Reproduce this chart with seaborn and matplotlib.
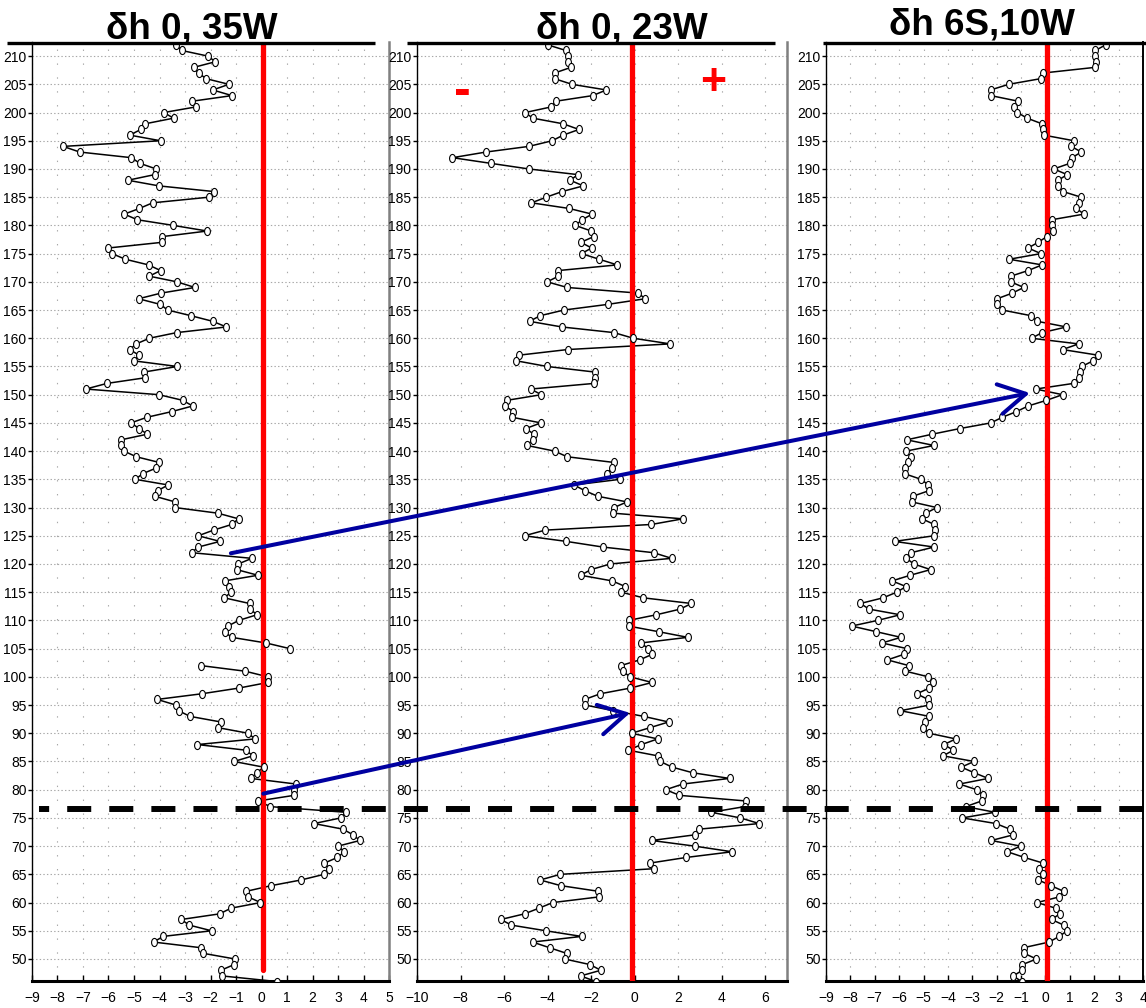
import numpy as np
import pandas as pd
import matplotlib
matplotlib.use("Agg")
import matplotlib.pyplot as plt
import matplotlib.transforms as mtransforms
from matplotlib.path import Path
from matplotlib.patches import ConnectionPatch
from matplotlib.lines import Line2D
import seaborn as sns

# ---- profiles: depth level (one value per level, top to bottom) ----
depth_35w = np.arange(212, 45, -1)
dh_35w = [
    -3.34, -3.13, -2.10, -1.81, -2.66, -2.47, -2.17, -1.28, -1.91, -1.16,
    -2.73, -2.57, -3.83, -3.45, -4.57, -4.73, -5.17, -3.96, -7.78, -7.13,
    -5.10, -4.77, -4.13, -4.19, -5.24, -4.02, -1.87, -2.06, -4.27, -4.79,
    -5.38, -4.87, -3.46, -2.13, -3.92, -3.90, -6.00, -5.86, -5.34, -4.43,
    -3.96, -4.40, -3.32, -2.61, -3.94, -4.82, -3.97, -3.68, -2.77, -1.91,
    -1.38, -3.33, -4.40, -4.91, -5.17, -4.80, -5.01, -3.30, -4.62, -4.56,
    -6.06, -6.89, -4.02, -3.09, -2.70, -3.52, -4.49, -5.12, -4.80, -4.48,
    -5.51, -5.51, -5.39, -4.91, -4.02, -4.13, -4.66, -4.95, -3.66, -4.07,
    -4.18, -3.39, -3.39, -1.71, -0.90, -1.17, -1.88, -2.48, -1.63, -2.48,
    -2.74, -0.38, -0.91, -0.97, -0.14, -1.45, -1.27, -1.19, -1.46, -0.47,
    -0.44, -0.18, -0.89, -1.32, -1.45, -1.17, 0.18, 1.11, np.nan, np.nan,
    -2.39, -0.64, 0.25, 0.25, -0.90, -2.34, -4.09, -3.36, -3.25, -2.81,
    -1.59, -1.71, -0.52, -0.26, -2.51, -0.61, -0.34, -1.08, 0.08, -0.18,
    -0.42, 1.36, 1.29, 1.28, -0.14, 0.35, 3.30, 3.11, 2.06, 3.20,
    3.59, 3.86, 3.00, 3.25, 2.98, 2.47, 2.65, 2.45, 1.55, 0.38,
    -0.59, -0.52, -0.04, -1.20, -1.64, -3.15, -2.83, -1.96, -3.86, -4.23,
    -2.38, -2.28, -1.04, -1.08, -1.59, -1.55, 0.61,
]

depth_23w = np.arange(212, 45, -1)
dh_23w = [
    -4.00, -3.16, -3.08, -3.04, -2.93, -3.68, -3.68, -2.88, -1.30, -1.93,
    -3.63, -3.83, -5.03, -4.68, -3.28, -2.56, -3.28, -3.79, -4.86, -6.83,
    -8.37, -6.61, -4.86, -2.61, -2.96, -2.36, -3.33, -4.06, -4.74, -3.01,
    -1.96, -2.41, -2.73, -1.99, -1.89, -2.47, -1.98, -2.44, -1.63, -0.80,
    -3.50, -3.50, -4.02, -3.10, 0.17, 0.48, -1.24, -3.25, -4.34, -4.83,
    -3.34, -0.95, -0.06, 1.64, -3.08, -5.32, -5.43, -4.02, -1.81, -1.81,
    -1.86, -4.77, -4.29, -5.87, -5.95, -5.58, -5.63, -4.31, -5.00, -4.63,
    -4.69, -4.94, -3.68, -3.10, -0.97, -1.04, -1.29, -0.67, -2.79, -2.29,
    -1.70, -0.35, -0.95, -0.98, 2.21, 0.77, -4.11, -5.06, -3.14, -1.46,
    0.87, 1.70, -1.12, -2.01, -2.48, -1.03, -0.43, -0.61, 0.40, 2.61,
    2.09, 1.00, -0.28, -0.28, 1.10, 2.44, 0.28, 0.63, 0.81, 0.23,
    -0.63, -0.55, -0.21, 0.80, -0.21, -1.58, -2.29, -2.27, -0.98, 0.41,
    1.56, 0.71, -0.14, 1.06, 0.31, -0.29, 1.06, 1.18, 1.72, 2.67,
    4.36, 2.21, 1.43, 2.06, 5.12, 5.05, 3.51, 4.86, 5.72, 2.94,
    2.76, 0.78, 2.76, 4.48, 2.38, 0.71, 0.89, -3.42, -4.34, -3.40,
    -1.67, -1.64, -3.76, -4.40, -5.06, -6.15, -5.66, -4.08, -2.44, -4.69,
    -3.91, -3.13, -3.22, -2.04, -1.56, -2.48, -1.78,
]

depth_6s10w = np.arange(213, 45, -1)
dh_6s10w = [
    2.97,
    2.47, 2.05, 2.02, 2.06, 2.02, -0.10, -0.20, -1.51, -2.25, -2.24,
    -1.11, -1.27, -1.15, -0.75, -0.14, -0.10, -0.07, 1.17, 1.06, 1.47,
    1.09, 1.00, 0.34, 0.89, 0.52, 0.52, 0.72, 1.46, 1.36, 1.27,
    1.58, 0.25, 0.26, 0.30, 0.05, -0.30, -0.71, -0.19, -1.49, -0.14,
    -0.71, -1.42, -1.42, -0.89, -1.36, -1.98, -1.98, -1.77, -0.59, -0.33,
    0.86, -0.14, -0.57, 1.36, 0.70, 2.16, 1.95, 1.49, 1.43, 1.36,
    1.15, -0.40, 0.70, 0.04, -0.71, -1.19, -1.77, -2.24, -3.51, -4.64,
    -5.69, -4.57, -5.72, -5.53, -5.62, -5.78, -5.78, -5.10, -4.80, -4.77,
    -5.44, -5.48, -4.46, -4.90, -5.06, -4.56, -4.52, -4.57, -6.19, -4.57,
    -5.51, -5.70, -5.40, -4.71, -5.55, -6.29, -5.72, -6.10, -6.66, -7.59,
    -7.23, -5.96, -6.88, -7.95, -6.94, -5.93, -6.70, -5.68, -5.80, -6.48,
    -5.61, -5.74, -4.80, -4.62, -4.76, -5.28, -4.82, -4.76, -5.95, -4.77,
    -4.95, -5.03, -4.77, -3.68, -4.16, -3.78, -4.20, -2.93, -3.45, -2.92,
    -2.35, -3.53, -2.82, -2.56, -2.62, -3.27, -2.07, -3.41, -2.03, -1.46,
    -1.32, -2.22, -1.02, -1.56, -0.87, -0.10, -0.26, -0.10, -0.29, 0.22,
    0.74, 0.56, -0.34, 0.42, 0.59, 0.25, 0.75, 0.89, 0.56, 0.15,
    -0.90, -0.87, -0.37, -0.95, -0.95, -1.32, -0.98,
]

titles = ["\u03b4h 0, 35W", "\u03b4h 0, 23W", "\u03b4h 6S,10W"]
x_limits = [(-9, 5), (-10, 7), (-9, 4)]
x_tick_sets = [list(range(-9, 6)), list(range(-10, 7, 2)), list(range(-9, 5))]
zero_lines = [0.05, -0.14, 0.07]
y_limits = (46.1, 212.5)
y_tick_values = list(range(50, 211, 5))
onset_level = 76.5

sns.set_style("white")
plt.rcParams["font.family"] = ["Liberation Sans Narrow", "Liberation Sans", "DejaVu Sans"]
plt.rcParams["lines.scale_dashes"] = False
plt.rcParams["text.color"] = "black"

W, H = 1146, 1008
fig = plt.figure(figsize=(W / 100, H / 100), dpi=100)

def fx(px):
    return px / W

def fy(py):
    return 1 - py / H

bottom, top = 981, 42
panel_px = [(32, 389), (417, 787), (826, 1143)]
axes = [fig.add_axes([fx(l), fy(bottom), fx(r - l), (bottom - top) / H]) for l, r in panel_px]

# open elliptical marker
theta = np.linspace(0, 2 * np.pi, 48)
ellipse = Path(np.column_stack([0.72 * np.cos(theta), np.sin(theta)]), closed=True)

profiles = [(depth_35w, dh_35w), (depth_23w, dh_23w), (depth_6s10w, dh_6s10w)]
grid_col = "#a8a8a8"

for i, (ax, (depth, vals)) in enumerate(zip(axes, profiles)):
    df = pd.DataFrame({"depth": depth, "dh": vals})
    df["seg"] = df["dh"].isna().cumsum()
    df = df.dropna()

    sns.lineplot(data=df, x="dh", y="depth", units="seg", estimator=None, sort=False,
                 color="black", linewidth=1.1, ax=ax, zorder=2, legend=False)
    ymin_frac = 0.0
    if i == 0:
        ymin_frac = (48 - y_limits[0]) / (y_limits[1] - y_limits[0])
    ax.axvline(zero_lines[i], ymin=ymin_frac, ymax=1, color="#ff0000", linewidth=3.8, zorder=3)
    sns.scatterplot(data=df, x="dh", y="depth", marker=ellipse, s=34, color="white",
                    edgecolor="black", linewidth=0.8, ax=ax, zorder=4, legend=False)

    ax.set_xlim(*x_limits[i])
    ax.set_ylim(*y_limits)
    ax.set_xticks(x_tick_sets[i])
    ax.set_yticks(y_tick_values)
    ax.set_xlabel("")
    ax.set_ylabel("")
    ax.set_axisbelow(True)
    ax.grid(True, axis="y", color=grid_col, linestyle=(0, (1.0, 1.6)), linewidth=0.8)
    ax.grid(True, axis="x", color=grid_col, linestyle=(0, (1.0, 9.0)), linewidth=0.8)
    ax.tick_params(axis="y", direction="out", length=3, width=1, pad=1, labelsize=10,
                   left=True, colors="black")
    ax.tick_params(axis="x", direction="in", length=4, width=1, pad=7, labelsize=10,
                   bottom=True, colors="black")

    ax.spines["top"].set_visible(False)
    ax.spines["left"].set_color("black")
    ax.spines["left"].set_linewidth(1.0)
    ax.spines["bottom"].set_color("black")
    ax.spines["bottom"].set_linewidth(2.2)
    if i < 2:
        ax.spines["right"].set_color("#808080")
        ax.spines["right"].set_linewidth(1.8)
    else:
        ax.spines["right"].set_color("black")
        ax.spines["right"].set_linewidth(1.4)

# heavy bars along the top of each panel
for l, r in [(7, 375), (407, 775), (823, 1146)]:
    fig.add_artist(Line2D([fx(l), fx(r)], [fy(42.5), fy(42.5)], transform=fig.transFigure,
                          color="black", linewidth=2.4, solid_capstyle="butt", zorder=5))

# panel titles
for (cx, base), t in zip([(192, 39), (622, 39), (982, 35)], titles):
    fig.text(fx(cx), fy(base), t, ha="center", va="baseline", fontsize=26.5, color="black",
             fontweight="bold", family=["Liberation Sans", "DejaVu Sans"], zorder=6)

# sign markers in the middle panel
axes[1].text(-7.9, 203.6, "-", color="#ff0000", fontsize=36, fontweight="bold",
             family=["Liberation Sans", "DejaVu Sans"], ha="center", va="center", zorder=6)
axes[1].text(3.6, 205.1, "+", color="#ff0000", fontsize=32, fontweight="bold",
             family=["Liberation Sans", "DejaVu Sans"], ha="center", va="center", zorder=6)

# dashed onset level across all panels
blend = mtransforms.blended_transform_factory(fig.transFigure, axes[0].transData)
fig.add_artist(Line2D([fx(39), 1.0], [onset_level, onset_level], transform=blend,
                      color="black", linewidth=4.3, linestyle=(10.0, (17.3, 13.0)),
                      dash_capstyle="butt", zorder=7))

# propagation arrows between panels
arrow_kw = dict(arrowstyle="->,head_length=0.8,head_width=0.45", mutation_scale=24,
                color="#0000a0", linewidth=2.9, zorder=8)
fig.add_artist(ConnectionPatch(xyA=(-1.2, 121.9), coordsA=axes[0].transData,
                               xyB=(-0.64, 150.3), coordsB=axes[2].transData, **arrow_kw))
fig.add_artist(ConnectionPatch(xyA=(0.07, 79.3), coordsA=axes[0].transData,
                               xyB=(-0.21, 93.6), coordsB=axes[1].transData, **arrow_kw))

fig.savefig("out.png", dpi=100)
